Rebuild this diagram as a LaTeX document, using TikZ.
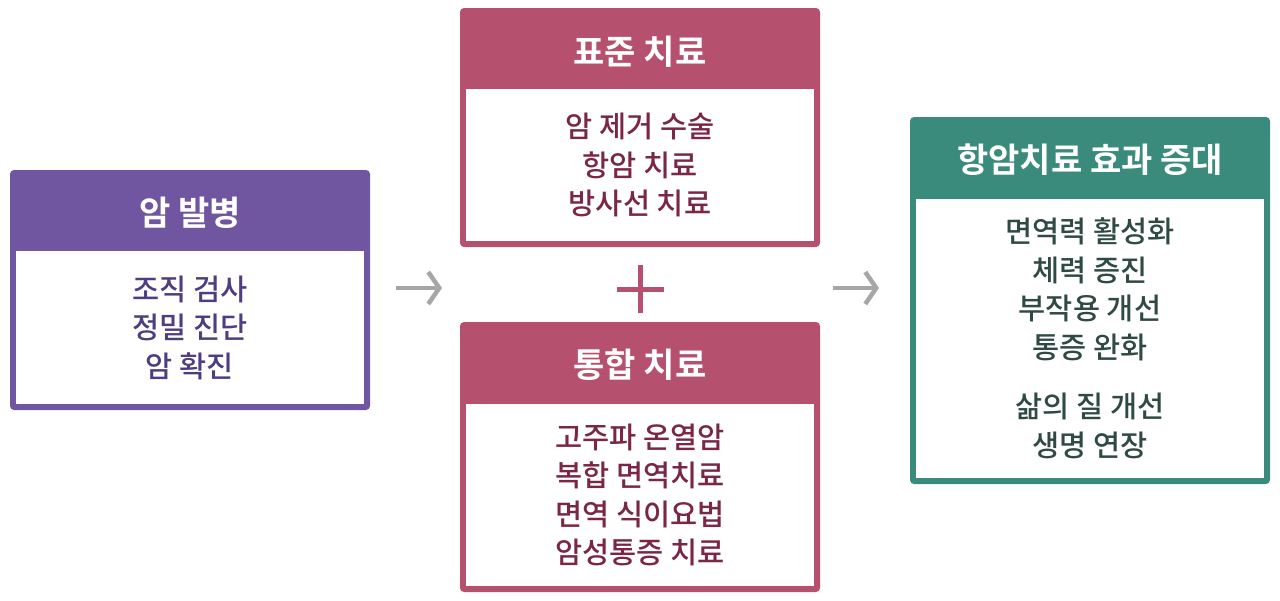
\documentclass[tikz,border=0pt]{standalone}
\usepackage{fontspec}
\setmainfont{Noto Sans CJK KR}[UprightFont=* Medium, BoldFont=* Bold]
\usetikzlibrary{arrows.meta, positioning}
\definecolor{onsetcol}{HTML}{7056A0}
\definecolor{onsettext}{HTML}{4E3D80}
\definecolor{treatcol}{HTML}{B5506F}
\definecolor{treattext}{HTML}{7A2645}
\definecolor{effectcol}{HTML}{3A8B7B}
\definecolor{effecttext}{HTML}{2F4A45}
\definecolor{arrowcol}{HTML}{A6A6A6}
\tikzset{
    x=1pt, y=-1pt,
    frame/.style={rounded corners=4pt, minimum width=360pt, inner sep=0pt}, % outer coloured box
    panel/.style={fill=white, minimum width=348pt, inner sep=0pt}, % white body of each box
    title/.style={text=white, font=\fontsize{34}{38}\selectfont\bfseries},
    body/.style={align=center, font=\fontsize{29.5}{38.5}\selectfont},
    flow/.style={arrowcol, line width=4.5pt, -{Straight Barb[length=11pt, width=32pt]}},
}
\begin{document}
\begin{tikzpicture}
    \useasboundingbox (0,0) rectangle (1280,600);
    % cancer onset
    \node[frame, fill=onsetcol, minimum height=240pt] (onset) at (190,290) {};
    \node[panel, minimum height=153pt] (onsetbody) at (190,327.5) {};
    \node[title] (onsettitle) at (190,213) {암 발병};
    \node[body, text=onsettext] (onsetlist) at (onsetbody) {조직 검사\\정밀 진단\\암 확진};
    % standard treatment
    \node[frame, fill=treatcol, minimum height=239pt] (standard) at (640,127.5) {};
    \node[panel, minimum height=152pt] (standardbody) at (640,165) {};
    \node[title] (standardtitle) at (640,52) {표준 치료};
    \node[body, text=treattext] (standardlist) at (standardbody) {암 제거 수술\\항암 치료\\방사선 치료};
    % integrated treatment
    \node[frame, fill=treatcol, minimum height=270pt] (integrated) at (640,457) {};
    \node[panel, minimum height=182pt] (integratedbody) at (640,495) {};
    \node[title] (integratedtitle) at (640,365) {통합 치료};
    \node[body, text=treattext] (integratedlist) at (integratedbody) {고주파 온열암\\복합 면역치료\\면역 식이요법\\암성통증 치료};
    % effect
    \node[frame, fill=effectcol, minimum height=367pt] (effect) at (1090,300.5) {};
    \node[panel, minimum height=279pt] (effectbody) at (1090,338.5) {};
    \node[title] (effecttitle) at (1090,160) {항암치료 효과 증대};
    \node[body, text=effecttext] (effectlist) at (effectbody) {면역력 활성화\\체력 증진\\부작용 개선\\통증 완화\\[21pt]삶의 질 개선\\생명 연장};
    % plus sign
    \coordinate (plus) at (640,289);
    \draw[treatcol, line width=5pt] ([xshift=-23.5pt]plus) -- ([xshift=23.5pt]plus)
        ([yshift=24pt]plus) -- ([yshift=-24pt]plus);
    % arrows
    \coordinate (a1) at (396,288);
    \coordinate (a2) at (442,288);
    \coordinate (b1) at (833,288);
    \coordinate (b2) at (879,288);
    \draw[flow] (a1) -- (a2);
    \draw[flow] (b1) -- (b2);
\end{tikzpicture}
\end{document}
